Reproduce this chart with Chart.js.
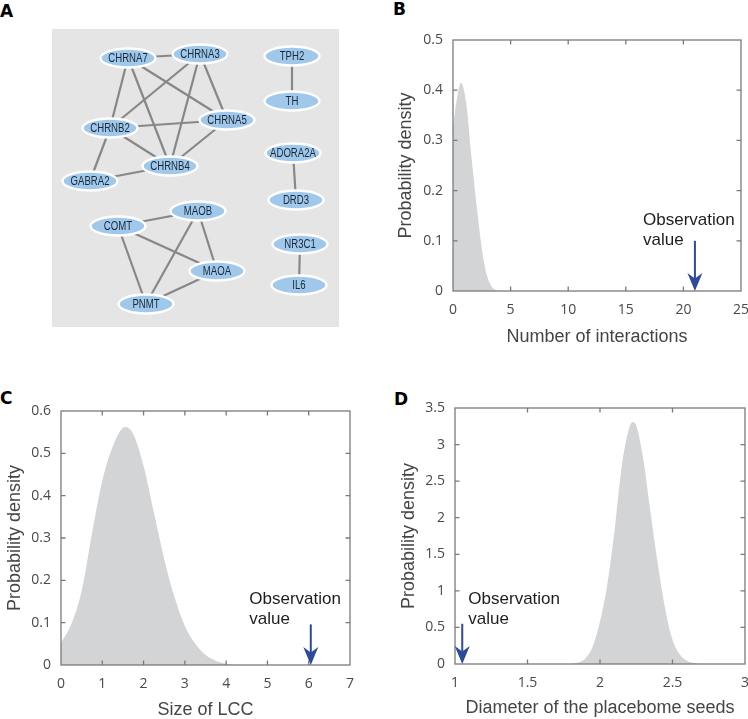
<!DOCTYPE html>
<html><head><meta charset="utf-8">
<script src="https://cdn.jsdelivr.net/npm/chart.js@4.4.1/dist/chart.umd.min.js"></script>
<style>
html,body{margin:0;padding:0;background:#fff;}
body{width:748px;height:719px;position:relative;overflow:hidden;}
canvas{position:absolute;}
.letter{position:absolute;font-family:"DejaVu Sans",Arial,sans-serif;font-weight:bold;font-size:17px;line-height:17px;color:#000;}
#boxA{position:absolute;left:52px;top:29px;width:287px;height:298px;background:#e5e5e5;}
</style></head><body>
<div class="letter" style="left:0px;top:3px">A</div>
<div class="letter" style="left:393px;top:1px">B</div>
<div class="letter" style="left:0px;top:390px">C</div>
<div class="letter" style="left:394px;top:391px">D</div>
<div id="boxA"><canvas id="cA" width="287" height="298" style="left:0;top:0"></canvas></div>
<canvas id="cB" width="374" height="360" style="left:374px;top:0px"></canvas>
<canvas id="cC" width="374" height="359" style="left:0px;top:360px"></canvas>
<canvas id="cD" width="374" height="359" style="left:374px;top:360px"></canvas>
<script>
// ---------- Panel A: network ----------
const nodeNames = ['CHRNA7','CHRNA3','TPH2','TH','CHRNB2','CHRNA5','ADORA2A','CHRNB4','GABRA2','DRD3','MAOB','COMT','NR3C1','MAOA','IL6','PNMT'];
const nodeX = [76, 148, 240, 240, 58, 175, 241, 118, 38, 244, 146, 66, 248, 165, 247, 94];
const nodeY = [29, 25, 27, 72, 99, 91, 124, 137, 152, 171, 182, 197, 215, 242, 256, 275];
const edges = [
  ['CHRNA7','CHRNA3'],['CHRNA7','CHRNB2'],['CHRNA7','CHRNB4'],['CHRNA7','CHRNA5'],
  ['CHRNA3','CHRNB2'],['CHRNA3','CHRNB4'],['CHRNA3','CHRNA5'],
  ['CHRNB2','CHRNA5'],['CHRNB2','CHRNB4'],['CHRNB2','GABRA2'],
  ['CHRNA5','CHRNB4'],['CHRNB4','GABRA2'],
  ['TPH2','TH'],['ADORA2A','DRD3'],['NR3C1','IL6'],
  ['COMT','MAOB'],['COMT','MAOA'],['COMT','PNMT'],['MAOB','MAOA'],['MAOB','PNMT'],['MAOA','PNMT']
];

// ---------- Panel B: number of interactions ----------
const bX = [0, 0.25, 0.5, 0.7, 1, 1.25, 1.5, 1.75, 2, 2.25, 2.5, 2.75, 3, 3.25, 3.5, 3.75, 4, 4.5, 25];
const bY = [0.327, 0.37, 0.402, 0.415, 0.395, 0.355, 0.29, 0.235, 0.18, 0.13, 0.085, 0.05, 0.027, 0.013, 0.005, 0.0015, 0, 0, 0];
const bObs = 21, bArrowTop = 0.1;

// ---------- Panel C: size of LCC ----------
const cX = [0, 0.25, 0.5, 0.75, 1, 1.25, 1.55, 1.75, 2, 2.25, 2.5, 2.75, 3, 3.25, 3.5, 3.75, 4, 4.25, 7];
const cY = [0.052, 0.097, 0.175, 0.31, 0.435, 0.515, 0.562, 0.545, 0.47, 0.36, 0.25, 0.16, 0.092, 0.05, 0.024, 0.01, 0.003, 0, 0];
const cObs = 6.05, cArrowTop = 0.096;

// ---------- Panel D: diameter ----------
const dX = [1, 1.8, 1.85, 1.9, 1.95, 2.0, 2.05, 2.1, 2.15, 2.2, 2.225, 2.25, 2.3, 2.35, 2.4, 2.45, 2.5, 2.55, 2.6, 2.65, 2.7, 3];
const dY = [0, 0, 0.02, 0.08, 0.24, 0.58, 1.08, 1.82, 2.7, 3.22, 3.31, 3.26, 2.78, 2.05, 1.35, 0.75, 0.33, 0.13, 0.045, 0.012, 0, 0];
const dObs = 1.05, dArrowTop = 0.55;

const obsLines = ['Observation', 'value'];
const yTitle = 'Probability density';

const FILL = '#d3d4d6', AXIS = '#7a7a7a', TICK = '#4a4a4a', TITLE = '#454545', ARROW = '#2d4a9b';
const fmt = v => String(Number(Number(v).toFixed(3)));

const boxTicks = {
  id: 'boxTicks',
  afterDatasetsDraw(chart) {
    const {ctx, chartArea: a, scales} = chart;
    const x = scales.x, y = scales.y, L = 4.5;
    ctx.save();
    ctx.strokeStyle = AXIS; ctx.lineWidth = 1.3;
    ctx.beginPath();
    x.ticks.forEach(t => {
      const p = x.getPixelForValue(t.value);
      if (p <= a.left + 1 || p >= a.right - 1) return;
      ctx.moveTo(p, a.bottom); ctx.lineTo(p, a.bottom - L);
      ctx.moveTo(p, a.top); ctx.lineTo(p, a.top + L);
    });
    y.ticks.forEach(t => {
      const p = y.getPixelForValue(t.value);
      if (p <= a.top + 1 || p >= a.bottom - 1) return;
      ctx.moveTo(a.left, p); ctx.lineTo(a.left + L, p);
      ctx.moveTo(a.right, p); ctx.lineTo(a.right - L, p);
    });
    ctx.stroke();
    ctx.strokeRect(a.left, a.top, a.right - a.left, a.bottom - a.top);
    ctx.restore();
  }
};

const obsArrow = {
  id: 'obsArrow',
  afterDatasetsDraw(chart, args, o) {
    if (o.value === undefined) return;
    const {ctx, scales: {x, y}} = chart;
    const px = x.getPixelForValue(o.value), pTop = y.getPixelForValue(o.top), pTip = y.getPixelForValue(0);
    ctx.save();
    ctx.strokeStyle = ARROW; ctx.fillStyle = ARROW; ctx.lineWidth = 2;
    ctx.beginPath(); ctx.moveTo(px, pTop); ctx.lineTo(px, pTip - 10); ctx.stroke();
    ctx.beginPath();
    ctx.moveTo(px, pTip); ctx.lineTo(px - 7.5, pTip - 18); ctx.lineTo(px, pTip - 12.5); ctx.lineTo(px + 7.5, pTip - 18);
    ctx.closePath(); ctx.fill();
    ctx.fillStyle = '#1e1e1e';
    ctx.font = '17px "Liberation Sans", Arial, sans-serif';
    ctx.textBaseline = 'middle'; ctx.textAlign = 'left';
    const tx = x.getPixelForValue(o.textX), ty = y.getPixelForValue(o.textY);
    obsLines.forEach((s, i) => ctx.fillText(s, tx, ty + i * 20));
    ctx.restore();
  }
};

function densityChart(id, xs, ys, c) {
  return new Chart(document.getElementById(id), {
    type: 'line',
    data: { datasets: [{
      data: xs.map((x, i) => ({x: x, y: ys[i]})),
      fill: 'origin', backgroundColor: FILL, borderWidth: 0, borderColor: FILL,
      pointRadius: 0, cubicInterpolationMode: 'monotone'
    }]},
    options: {
      responsive: false, animation: false, events: [],
      layout: { padding: { left: 0, right: c.padR, top: c.padT, bottom: 0 } },
      plugins: { legend: {display: false}, tooltip: {enabled: false},
        obsArrow: { value: c.obs, top: c.arrowTop, textX: c.textX, textY: c.textY } },
      scales: {
        x: {
          type: 'linear', min: c.xMin, max: c.xMax,
          ticks: { stepSize: c.xStep, padding: c.xTickPad, color: TICK, maxRotation: 0, autoSkip: false,
                   callback: fmt, font: {family: '"Open Sans", sans-serif', size: 14} },
          grid: { display: false, drawTicks: false }, border: { display: false },
          title: { display: true, text: c.xTitle, color: TITLE, padding: {top: 0, bottom: c.xTitlePad},
                   font: {family: '"Liberation Sans", Arial, sans-serif', size: 18, lineHeight: 1} },
          afterFit(s) { s.height = c.xH; s.paddingLeft = 0; s.paddingRight = 0; }
        },
        y: {
          type: 'linear', min: 0, max: c.yMax,
          ticks: { stepSize: c.yStep, padding: 10, color: TICK, callback: fmt,
                   font: {family: '"Open Sans", sans-serif', size: 14} },
          grid: { display: false, drawTicks: false }, border: { display: false },
          title: { display: true, text: yTitle, color: TITLE, padding: {top: c.yTitlePad, bottom: 0},
                   font: {family: '"Liberation Sans", Arial, sans-serif', size: 18, lineHeight: 1} },
          afterFit(s) { s.width = c.yW; s.paddingTop = 0; s.paddingBottom = 0; }
        }
      }
    },
    plugins: [boxTicks, obsArrow]
  });
}

densityChart('cB', bX, bY, {
  padR: 7, padT: 40, xH: 69, yW: 79, xTickPad: 11, xTitlePad: 14, yTitlePad: 22.7,
  xMin: 0, xMax: 25, xStep: 5, yMax: 0.5, yStep: 0.1, xTitle: 'Number of interactions',
  obs: bObs, arrowTop: bArrowTop, textX: 16.5, textY: 0.14
});
densityChart('cC', cX, cY, {
  padR: 24, padT: 51, xH: 54, yW: 61, xTickPad: 11, xTitlePad: 0, yTitlePad: 6,
  xMin: 0, xMax: 7, xStep: 1, yMax: 0.6, yStep: 0.1, xTitle: 'Size of LCC',
  obs: cObs, arrowTop: cArrowTop, textX: 4.56, textY: 0.155
});
densityChart('cD', dX, dY, {
  padR: 3, padT: 48, xH: 55, yW: 81, xTickPad: 11, xTitlePad: 1.7, yTitlePad: 26,
  xMin: 1, xMax: 3, xStep: 0.5, yMax: 3.5, yStep: 0.5, xTitle: 'Diameter of the placebome seeds',
  obs: dObs, arrowTop: dArrowTop, textX: 1.092, textY: 0.88
});

// ---------- Panel A chart ----------
const nodeDraw = {
  id: 'nodeDraw',
  afterDatasetsDraw(chart) {
    const meta = chart.getDatasetMeta(chart.data.datasets.length - 1);
    const ctx = chart.ctx;
    ctx.save();
    meta.data.forEach((pt, i) => {
      ctx.beginPath(); ctx.ellipse(pt.x, pt.y, 27.5, 9.5, 0, 0, Math.PI * 2);
      ctx.fillStyle = '#a0c8ea'; ctx.fill();
      ctx.lineWidth = 2.4; ctx.strokeStyle = '#ffffff'; ctx.stroke();
      ctx.save(); ctx.translate(pt.x, pt.y); ctx.scale(0.8, 1);
      ctx.fillStyle = '#1a2838'; ctx.font = '12px "Liberation Sans", Arial, sans-serif';
      ctx.textAlign = 'center'; ctx.textBaseline = 'middle';
      ctx.fillText(nodeNames[i], 0, 0.5);
      ctx.restore();
    });
    ctx.restore();
  }
};
const idxOf = n => nodeNames.indexOf(n);
const edgeSets = edges.map(e => ({
  data: e.map(n => ({x: nodeX[idxOf(n)], y: nodeY[idxOf(n)]})),
  showLine: true, borderColor: '#878787', borderWidth: 2.2, pointRadius: 0, fill: false
}));
new Chart(document.getElementById('cA'), {
  type: 'scatter',
  data: { datasets: edgeSets.concat([{
    data: nodeNames.map((n, i) => ({x: nodeX[i], y: nodeY[i]})), pointRadius: 0, showLine: false
  }])},
  options: {
    responsive: false, animation: false, events: [],
    layout: { padding: 0 },
    plugins: { legend: {display: false}, tooltip: {enabled: false} },
    scales: {
      x: { type: 'linear', min: 0, max: 287, display: false },
      y: { type: 'linear', min: 0, max: 298, reverse: true, display: false }
    }
  },
  plugins: [nodeDraw]
});
</script>
</body></html>
